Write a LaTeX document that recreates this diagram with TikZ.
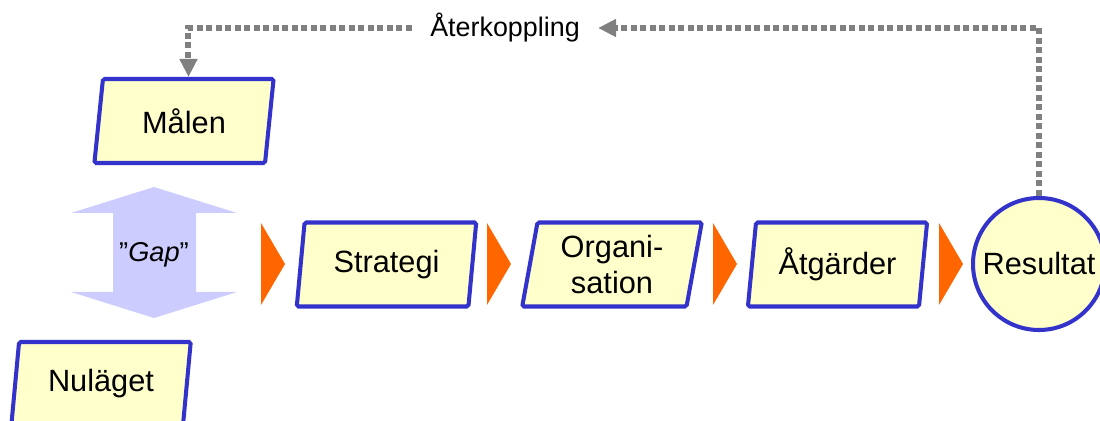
\documentclass[tikz,border=0pt]{standalone}
\usepackage{fontspec}
\setmainfont{Liberation Sans}
\usetikzlibrary{shapes.geometric,arrows.meta,calc}

\definecolor{boxblue}{HTML}{3333CC}
\definecolor{boxfill}{HTML}{FFFFCC}
\definecolor{steporange}{HTML}{FF6600}
\definecolor{loopgray}{HTML}{808080}
\definecolor{gaplilac}{HTML}{CCCCFF}

\tikzset{
  phase/.style={trapezium, trapezium left angle=80, trapezium right angle=100,
    trapezium stretches=true, minimum width=3.6cm, minimum height=1.68cm,
    draw=boxblue, fill=boxfill, line width=2.3pt, rounded corners=1pt,
    inner sep=0pt, align=center, font=\fontsize{17.5}{21}\selectfont},
  goal/.style={circle, minimum size=2.64cm, inner sep=0pt,
    draw=boxblue, fill=boxfill, line width=2.3pt, font=\fontsize{17.5}{21}\selectfont},
  feedback/.style={draw=loopgray, line width=0.12cm, dash pattern=on 0.12cm off 0.07cm,
    -{Triangle[length=0.36cm,width=0.34cm]}},
}

\begin{document}
\begin{tikzpicture}
\useasboundingbox (0,0) rectangle (22,8.4);

% Gap arrow
\fill[gaplilac] (3.08,4.66) -- (4.74,4.14) -- (3.92,4.14) -- (3.92,2.56) -- (4.74,2.56)
  -- (3.08,2.04) -- (1.42,2.56) -- (2.26,2.56) -- (2.26,4.14) -- (1.42,4.14) -- cycle;
\node (gap) at (3.08,3.30) {\fontsize{15.5}{18}\selectfont ”\textit{Gap}”};

% Goal and current state
\node[phase] (malen) at (3.68,5.98) {Målen};
\node[phase] (nulaget) at (2.02,0.72) {Nuläget};

% Chain of steps
\node[phase] (strategi) at (7.73,3.11) {Strategi};
\node[phase] (organisation) at (12.24,3.11) {Organi-\\sation};
\node[phase] (atgarder) at (16.75,3.11) {Åtgärder};
\node[goal] (resultat) at (20.78,3.12) {Resultat};

% Orange step markers
\foreach \x in {5.22,9.74,14.26,18.78}
  \fill[steporange] (\x,3.94) -- (\x+0.48,3.12) -- (\x,2.30) -- cycle;

% Feedback loop
\node[inner sep=0pt, font=\fontsize{15.3}{18}\selectfont] (loop) at (10.1,7.84) {Återkoppling};
\draw[feedback] (resultat.north) |- ($(loop.east)+(0.36,0)$);
\draw[feedback] ($(loop.west)+(-0.36,0)$) -| ($(malen.top left corner)!0.5!(malen.top right corner)$);

\end{tikzpicture}
\end{document}
